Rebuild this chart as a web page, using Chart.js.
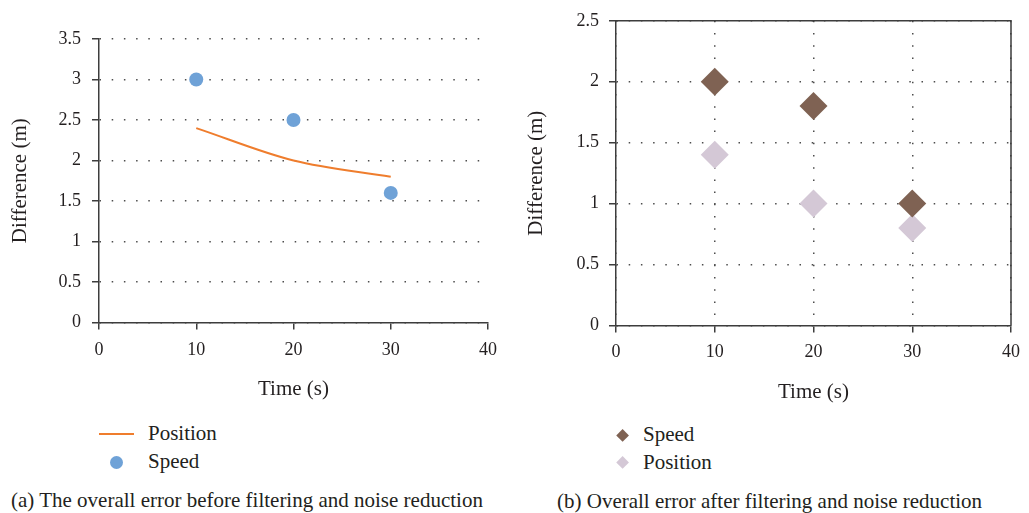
<!DOCTYPE html>
<html>
<head>
<meta charset="utf-8">
<script src="https://cdn.jsdelivr.net/npm/chart.js@4.4.0/dist/chart.umd.min.js"></script>
<style>
  body { margin: 0; width: 1029px; height: 513px; background: #fff; position: relative; overflow: hidden;
         font-family: "Liberation Serif", serif; color: #231f20; }
  canvas { position: absolute; top: 0; }
  #chartBefore { left: 0; }
  #chartAfter { left: 520px; }
  .legend-text, .caption { position: absolute; font-size: 21px; line-height: 24px; white-space: nowrap; }
  .swatch { position: absolute; }
</style>
</head>
<body>
<canvas id="chartBefore" width="510" height="410"></canvas>
<canvas id="chartAfter" width="509" height="410"></canvas>

<div class="swatch" style="left:99px;top:433px;width:35px;height:1.5px;background:#ef7d2d;"></div>
<div class="legend-text" style="left:148px;top:421px;">Position</div>
<div class="swatch" style="left:109.5px;top:455.5px;width:13px;height:13px;border-radius:50%;background:#6fa2d7;"></div>
<div class="legend-text" style="left:148px;top:449px;">Speed</div>

<div class="swatch" style="left:618.4px;top:431.4px;width:9.2px;height:9.2px;transform:rotate(45deg);background:#7f6253;"></div>
<div class="legend-text" style="left:643px;top:422px;">Speed</div>
<div class="swatch" style="left:618.4px;top:458.4px;width:9.2px;height:9.2px;transform:rotate(45deg);background:#d4c8d6;"></div>
<div class="legend-text" style="left:643px;top:450px;">Position</div>

<div class="caption" style="left:11px;top:488px;">(a) The overall error before filtering and noise reduction</div>
<div class="caption" style="left:557px;top:489px;">(b) Overall error after filtering and noise reduction</div>

<script>
// time axis samples (s)
const timeSec = [10, 20, 30];
// (a) before filtering
const positionBefore = [2.4, 2.0, 1.8];
const speedBefore = [3.0, 2.5, 1.6];
// (b) after filtering
const speedAfter = [2.0, 1.8, 1.0];
const positionAfter = [1.4, 1.0, 0.8];
// axis ranges
const timeRange = [0, 40];
const diffRangeBefore = [0, 3.5];
const diffRangeAfter = [0, 2.5];

const textColor = "#231f20";
const axisColor = "#3d3d3d";
const dotColor = "#4d4d4d";
const dots = [1.5, 10.7];
const serif = '"Liberation Serif", "Times New Roman", serif';

Chart.defaults.font.family = serif;
Chart.defaults.color = textColor;
Chart.defaults.animation = false;

function toPoints(ys) {
  return timeSec.map((t, i) => ({ x: t, y: ys[i] }));
}

function xAxis(gridOnArea, tickPad, titlePad, height) {
  return {
    type: "linear",
    min: timeRange[0],
    max: timeRange[1],
    ticks: { stepSize: 10, padding: tickPad, color: textColor, font: { family: serif, size: 18 } },
    grid: {
      drawOnChartArea: gridOnArea, color: dotColor, lineWidth: 1.5,
      drawTicks: true, tickLength: 7, tickColor: axisColor, tickWidth: 1.5, tickBorderDash: [],
    },
    border: { display: true, color: axisColor, width: 1.5, dash: dots },
    title: { display: true, text: "Time (s)", color: textColor, font: { family: serif, size: 21 }, padding: { top: 0, bottom: titlePad } },
    afterFit: (s) => { s.height = height; },
  };
}

function yAxis(range, tickPad, titlePad, width) {
  return {
    min: range[0],
    max: range[1],
    ticks: {
      stepSize: 0.5, padding: tickPad, color: textColor, font: { family: serif, size: 18 },
      callback: (v) => String(v),
    },
    grid: {
      drawOnChartArea: true, color: dotColor, lineWidth: 1.5,
      drawTicks: true, tickLength: 7, tickColor: axisColor, tickWidth: 1.5, tickBorderDash: [],
    },
    border: { display: true, color: axisColor, width: 1.5, dash: dots },
    title: { display: true, text: "Difference (m)", color: textColor, font: { family: serif, size: 21 }, padding: { top: titlePad, bottom: 0 } },
    afterFit: (s) => { s.width = width; },
  };
}

// closes the box on top and right of the second chart
const frameBox = {
  id: "frameBox",
  afterDraw(chart) {
    const { ctx, chartArea } = chart;
    ctx.save();
    ctx.strokeStyle = axisColor;
    ctx.lineWidth = 1.5;
    ctx.beginPath();
    ctx.moveTo(chartArea.left, chartArea.top);
    ctx.lineTo(chartArea.right, chartArea.top);
    ctx.lineTo(chartArea.right, chartArea.bottom);
    ctx.stroke();
    ctx.restore();
  },
};

new Chart(document.getElementById("chartBefore"), {
  type: "scatter",
  data: {
    datasets: [
      {
        label: "Position",
        data: toPoints(positionBefore),
        showLine: true,
        borderColor: "#ef7d2d",
        borderWidth: 2,
        pointRadius: 0,
        cubicInterpolationMode: "monotone",
      },
      {
        label: "Speed",
        data: toPoints(speedBefore),
        pointRadius: 7,
        pointBorderWidth: 0,
        backgroundColor: "#6fa2d7",
        borderColor: "#6fa2d7",
      },
    ],
  },
  options: {
    responsive: false,
    layout: { padding: { top: 39, right: 22, left: 0, bottom: 0 } },
    plugins: { legend: { display: false }, tooltip: { enabled: false } },
    scales: {
      x: xAxis(false, 10, 8, 87.5),
      y: yAxis(diffRangeBefore, 11, 8, 99),
    },
  },
});

new Chart(document.getElementById("chartAfter"), {
  type: "scatter",
  data: {
    datasets: [
      {
        label: "Speed",
        data: toPoints(speedAfter),
        pointStyle: "rectRot",
        pointRadius: 14,
        pointBorderWidth: 0,
        backgroundColor: "#7f6253",
        borderColor: "#7f6253",
      },
      {
        label: "Position",
        data: toPoints(positionAfter),
        pointStyle: "rectRot",
        pointRadius: 14,
        pointBorderWidth: 0,
        backgroundColor: "#d4c8d6",
        borderColor: "#d4c8d6",
      },
    ],
  },
  plugins: [frameBox],
  options: {
    responsive: false,
    layout: { padding: { top: 11, right: 12, left: 0, bottom: 0 } },
    plugins: { legend: { display: false }, tooltip: { enabled: false } },
    scales: {
      x: xAxis(true, 9, 5, 84.5),
      y: yAxis(diffRangeAfter, 10, 4, 96),
    },
  },
});
</script>
</body>
</html>
